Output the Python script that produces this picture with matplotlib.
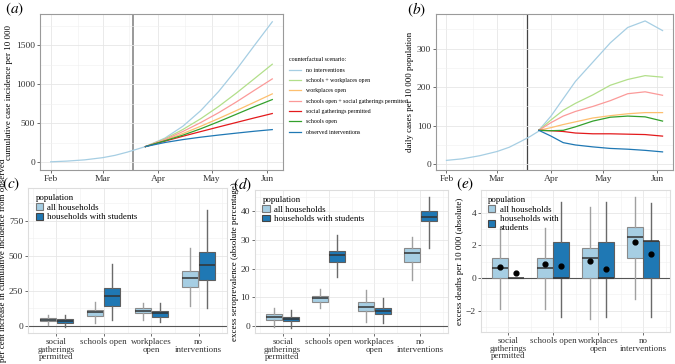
import pandas as pd
import matplotlib
matplotlib.use('Agg')
import matplotlib.pyplot as plt
import matplotlib.dates as mdates
from matplotlib.ticker import MultipleLocator
from matplotlib.patches import Patch
import numpy as np

plt.rcParams['font.family'] = ['Liberation Serif', 'DejaVu Serif']
plt.rcParams['mathtext.fontset'] = 'stix'

# ---- top panels: time series ----
scenarios = ['no interventions', 'schools + workplaces open', 'workplaces open',
             'schools open + social gatherings permitted', 'social gatherings permitted',
             'schools open', 'observed interventions']
colors = ['#a6cee3', '#b2df8a', '#fdbf6f', '#fb9a99', '#e31a1c', '#33a02c', '#1f78b4']

base_dates = ['2020-02-01', '2020-02-10', '2020-02-20', '2020-03-01', '2020-03-08',
              '2020-03-15', '2020-03-20', '2020-03-25']
cum_base = [5, 14, 30, 58, 88, 130, 165, 200]
daily_base = [10, 14, 22, 33, 44, 60, 72, 86]

cum_dates = ['2020-03-25', '2020-04-05', '2020-04-15', '2020-04-25', '2020-05-05',
             '2020-05-15', '2020-05-25', '2020-06-04']
cum_no_int = [200, 310, 462, 662, 907, 1190, 1497, 1800]
cum_schools_work = [200, 300, 420, 558, 715, 888, 1071, 1256]
cum_work = [200, 283, 368, 461, 560, 663, 769, 876]
cum_schools_social = [200, 291, 394, 509, 635, 774, 922, 1068]
cum_social = [200, 271, 333, 393, 452, 510, 568, 624]
cum_schools = [200, 275, 347, 429, 520, 616, 712, 803]
cum_observed = [200, 253, 290, 321, 348, 373, 397, 418]

daily_dates = ['2020-03-25', '2020-04-01', '2020-04-08', '2020-04-15', '2020-04-25',
               '2020-05-05', '2020-05-15', '2020-05-25', '2020-06-04']
daily_no_int = [88, 125, 170, 215, 265, 315, 355, 372, 347]
daily_schools_work = [88, 115, 140, 158, 180, 205, 220, 230, 226]
daily_work = [88, 95, 103, 110, 120, 126, 131, 134, 134]
daily_schools_social = [88, 108, 125, 137, 150, 165, 183, 188, 179]
daily_social = [88, 87, 85, 81, 79, 79, 78, 77, 73]
daily_schools = [88, 87, 88, 97, 112, 122, 125, 123, 112]
daily_observed = [88, 73, 56, 50, 45, 41, 39, 36, 32]

intervention_date = '2020-03-18'

# ---- bottom panels: [whisker low, q1, median, q3, whisker high] ----
categories = ['social\ngatherings\npermitted', 'schools open', 'workplaces\nopen', 'no\ninterventions']
c_all = [[10, 33, 45, 55, 80], [19, 71, 98, 114, 174], [43, 90, 110, 126, 167], [143, 281, 345, 395, 560]]
c_students = [[-5, 19, 36, 50, 75], [43, 145, 214, 269, 440], [31, 67, 90, 107, 162], [126, 329, 436, 531, 829]]
d_all = [[-0.2, 2.3, 3.3, 4.1, 6.2], [6.2, 8.5, 9.7, 10.5, 12.9], [1.5, 5.3, 6.5, 8.3, 12.6], [16.0, 22.4, 25.3, 27.1, 30.9]]
d_students = [[-0.6, 1.7, 2.4, 3.3, 5.6], [17.2, 22.4, 24.8, 26.3, 31.7], [1.2, 4.1, 5.2, 6.4, 9.9], [27.3, 36.6, 37.9, 40.1, 44.9]]
e_all = [[-1.9, 0, 0.62, 1.23, 3.08], [-1.9, 0, 0.62, 1.23, 3.08], [-2.5, 0, 1.23, 1.85, 4.37], [-1.27, 1.23, 2.5, 3.12, 4.98]]
e_students = [[0, 0, 0, 0, 0], [-2.36, 0, 0, 2.22, 4.68], [-2.36, 0, 0, 2.22, 4.68], [-2.36, 0, 2.26, 2.26, 4.62]]
e_all_mean = [0.66, 0.86, 1.07, 2.22]
e_students_mean = [0.31, 0.72, 0.55, 1.5]

light_blue = '#a6cee3'
dark_blue = '#1f78b4'

fig = plt.figure(figsize=(6.75, 3.64), dpi=100)
ax_a = fig.add_axes([40 / 675, 1 - 170 / 364, 243 / 675, 156 / 364])
ax_b = fig.add_axes([436 / 675, 1 - 170 / 364, 237 / 675, 156 / 364])
ax_c = fig.add_axes([28 / 675, 1 - 333 / 364, 199 / 675, 145 / 364])
ax_d = fig.add_axes([255 / 675, 1 - 333 / 364, 193 / 675, 143 / 364])
ax_e = fig.add_axes([481 / 675, 1 - 332 / 364, 189 / 675, 142 / 364])


def style_axes(ax, spine_color, size):
    for s in ax.spines.values():
        s.set_color(spine_color)
        s.set_linewidth(0.8)
    ax.grid(which='major', color='#e6e6e6', lw=0.6)
    ax.grid(which='minor', color='#f0f0f0', lw=0.4)
    ax.set_axisbelow(True)
    ax.tick_params(which='major', length=2, width=0.6, color='#555555', labelsize=size,
                   labelcolor='#333333', pad=1.5)
    ax.tick_params(which='minor', length=0)


def draw_series(ax, base, dates, series_list, ylim, ymajor, ylabel, vcol, vlw):
    ax.plot(pd.to_datetime(base_dates), base, color=colors[0], lw=0.9)
    for vals, col in zip(series_list, colors):
        ax.plot(pd.to_datetime(dates), vals, color=col, lw=0.9)
    ax.axvline(pd.to_datetime(intervention_date), color=vcol, lw=vlw, zorder=0.5)
    ax.set_xlim(pd.to_datetime('2020-01-26'), pd.to_datetime('2020-06-10'))
    ax.set_ylim(*ylim)
    ax.xaxis.set_major_locator(mdates.MonthLocator())
    ax.xaxis.set_minor_locator(mdates.MonthLocator(bymonthday=16))
    ax.xaxis.set_major_formatter(mdates.DateFormatter('%b'))
    ax.yaxis.set_major_locator(MultipleLocator(ymajor))
    ax.yaxis.set_minor_locator(MultipleLocator(ymajor / 2))
    style_axes(ax, '#9a9a9a', 6.8)
    ax.set_ylabel(ylabel, fontsize=6.4, labelpad=2)


draw_series(ax_a, cum_base, cum_dates,
            [cum_no_int, cum_schools_work, cum_work, cum_schools_social, cum_social, cum_schools, cum_observed],
            (-100, 1900), 500, 'cumulative case incidence per 10 000', '#999999', 1.4)
draw_series(ax_b, daily_base, daily_dates,
            [daily_no_int, daily_schools_work, daily_work, daily_schools_social, daily_social, daily_schools, daily_observed],
            (-15, 390), 100, 'daily cases per 10 000 population', '#444444', 0.9)

handles = ax_a.get_lines()[1:8]
fig.legend(handles, scenarios, loc='upper left', bbox_to_anchor=(287 / 675, 1 - 55 / 364),
           fontsize=4.2, title='counterfactual scenario:', title_fontsize=4.2, frameon=False,
           handlelength=2.0, labelspacing=0.9, alignment='left', borderaxespad=0)


def draw_boxes(ax, all_stats, stud_stats, ylim, ymajor, ylabel, legend_labels):
    ax.axhline(0, color='#555555', lw=0.8, zorder=1)
    for stats, col, edge, wcol, off in [(all_stats, light_blue, '#8a8a8a', '#a0a0a0', -0.18),
                                        (stud_stats, dark_blue, '#5f5f5f', '#6a6a6a', 0.18)]:
        bx = [dict(whislo=s[0], q1=s[1], med=s[2], q3=s[3], whishi=s[4], fliers=[]) for s in stats]
        ax.bxp(bx, positions=np.arange(1, 5) + off, widths=0.34, patch_artist=True,
               showcaps=False, showfliers=False,
               boxprops=dict(facecolor=col, edgecolor=edge, lw=0.8),
               medianprops=dict(color='#333333', lw=1.1),
               whiskerprops=dict(color=wcol, lw=1.0), zorder=2)
    ax.set_xlim(0.4, 4.6)
    ax.set_ylim(*ylim)
    ax.set_xticks(np.arange(1, 5))
    ax.set_xticklabels(categories, linespacing=0.95)
    ax.yaxis.set_major_locator(MultipleLocator(ymajor))
    ax.yaxis.set_minor_locator(MultipleLocator(ymajor / 2))
    ax.set_xticks(np.arange(0.5, 5, 1), minor=True)
    style_axes(ax, '#dddddd', 6.4)
    ax.tick_params(axis='y', labelsize=6.8)
    ax.set_ylabel(ylabel, fontsize=6.4, labelpad=1.5)
    leg_handles = [Patch(facecolor=light_blue, edgecolor='#777777', lw=0.8),
                   Patch(facecolor=dark_blue, edgecolor='#444444', lw=0.8)]
    ax.legend(leg_handles, legend_labels, loc='upper left', bbox_to_anchor=(0.02, 0.98),
              title='population', fontsize=6.4, title_fontsize=6.4, frameon=False,
              handlelength=0.8, handleheight=0.8, handletextpad=0.5, labelspacing=0.1,
              alignment='left', borderaxespad=0.2, borderpad=0.2)


draw_boxes(ax_c, c_all, c_students, (-50, 985), 250,
           'per cent increase in cumulative incidence from observed',
           ['all households', 'households with students'])
draw_boxes(ax_d, d_all, d_students, (-2.4, 47.4), 10,
           'excess seroprevalence (absolute percentage)',
           ['all households', 'households with students'])
draw_boxes(ax_e, e_all, e_students, (-3.3, 5.4), 2,
           'excess deaths per 10 000 (absolute)',
           ['all households', 'households with\nstudents'])
ax_e.scatter(np.arange(1, 5) - 0.18, e_all_mean, s=12, color='black', zorder=4)
ax_e.scatter(np.arange(1, 5) + 0.18, e_students_mean, s=12, color='black', zorder=4)

for lab, x, y in [('a', 0.008, 0.998), ('b', 0.603, 0.998), ('c', 0.003, 0.518),
                  ('d', 0.345, 0.518), ('e', 0.675, 0.518)]:
    fig.text(x, y, r'$(%s)$' % lab, fontsize=11, va='top', ha='left')

fig.savefig('out.png', dpi=100)
